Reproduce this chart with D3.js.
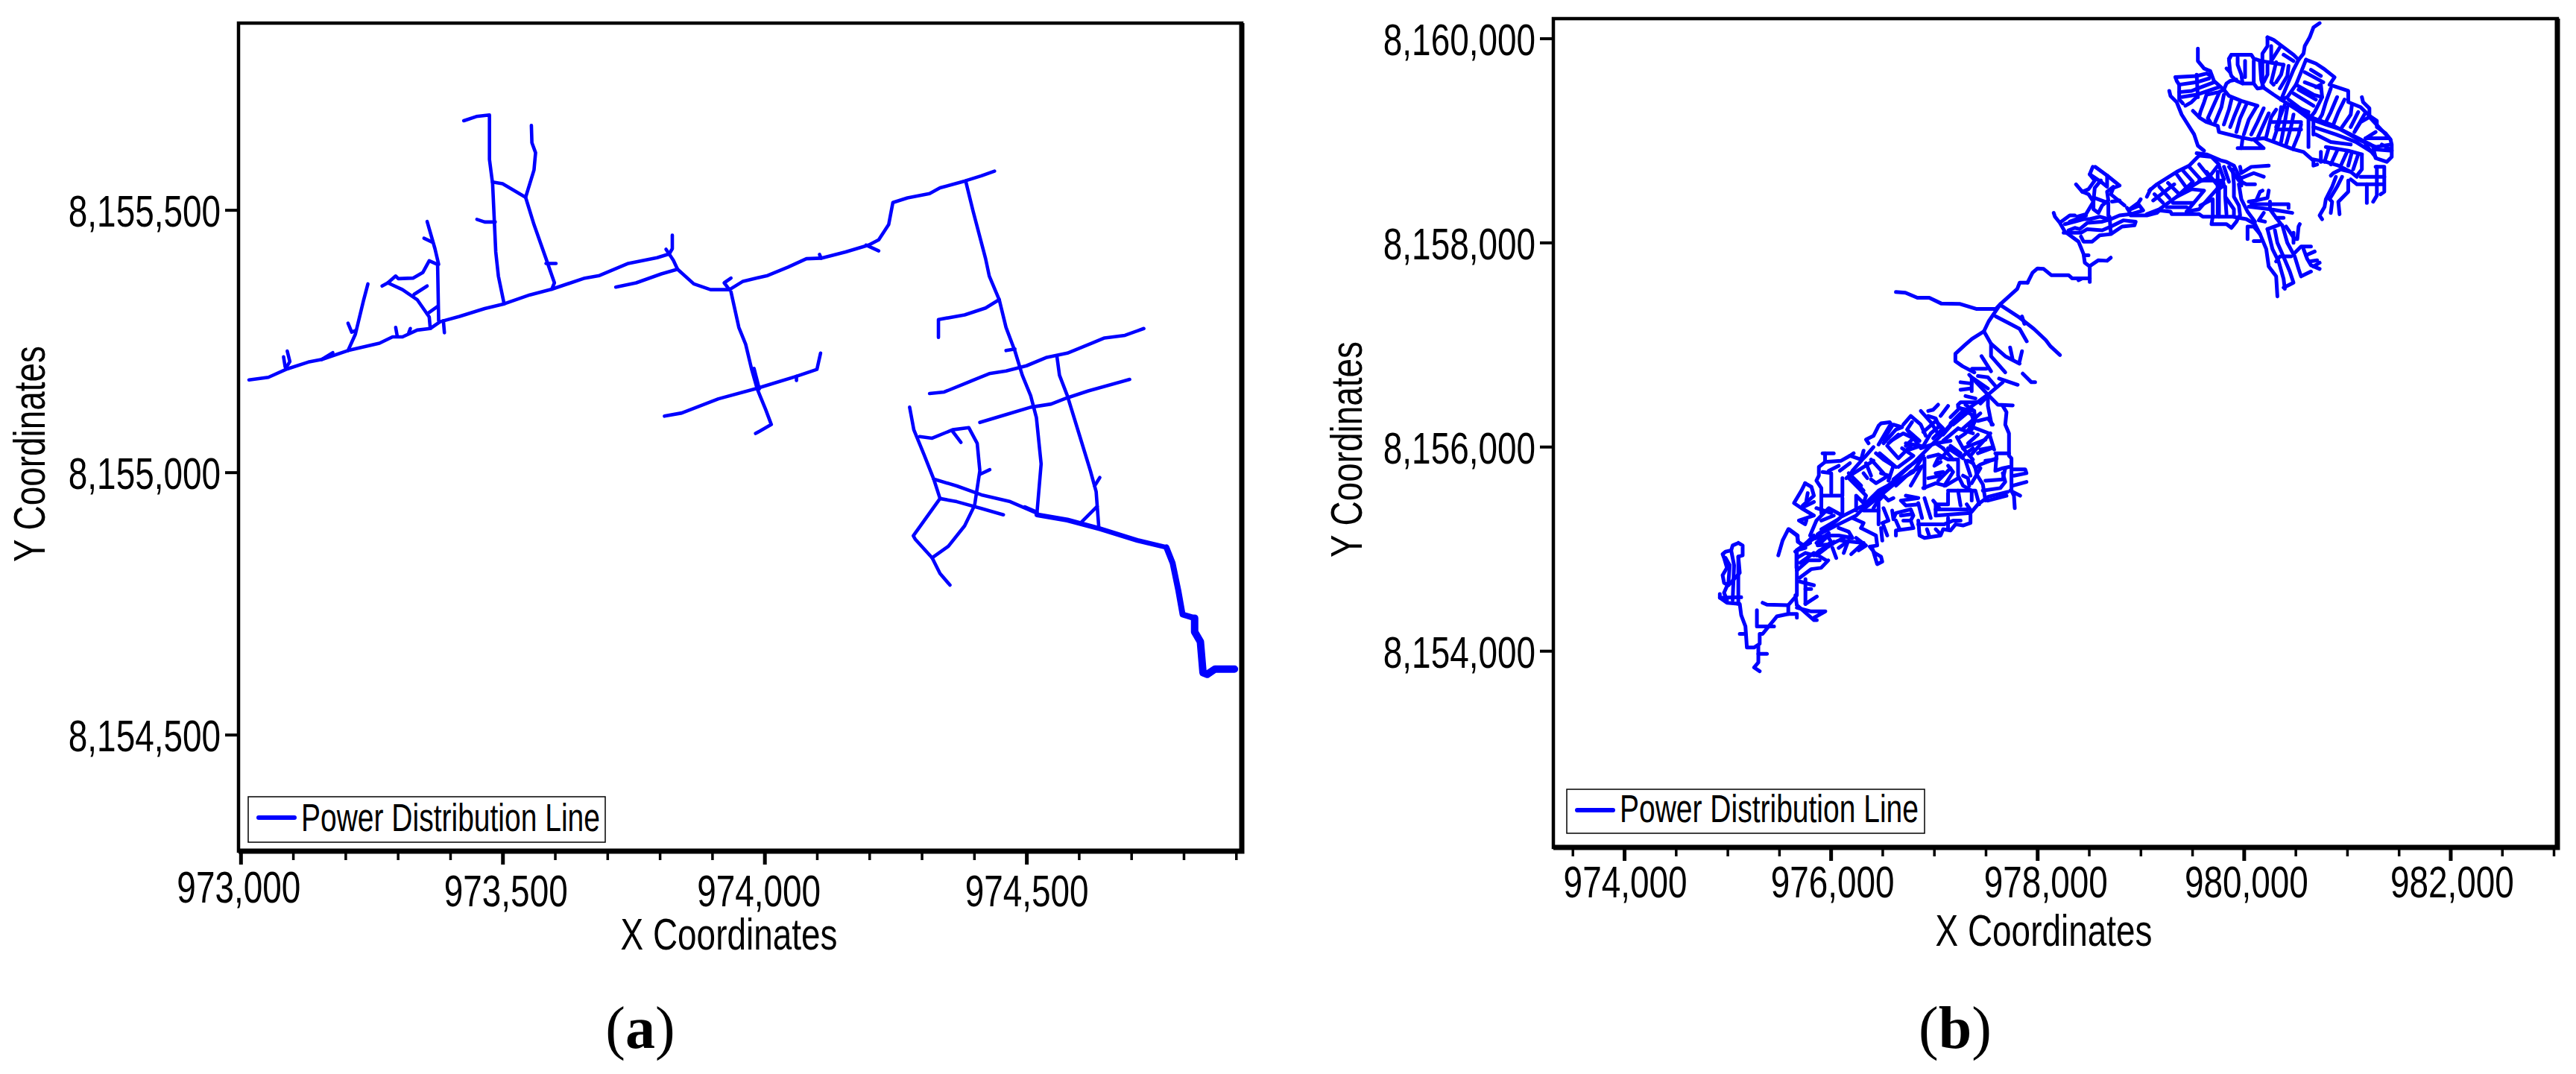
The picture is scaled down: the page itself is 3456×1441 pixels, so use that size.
<!DOCTYPE html>
<html>
<head>
<meta charset="utf-8">
<script src="https://cdn.jsdelivr.net/npm/d3@7"></script>
<style>
html, body { margin: 0; padding: 0; background: #fff; }
svg { display: block; }
text { font-family: "Liberation Sans", Arial, sans-serif; fill: #000; }
</style>
</head>
<body>
<svg id="chart" width="3456" height="1441"></svg>
<script>
//Coordinates are stored relative to a local grid origin so the lists stay short
var originX = 970000, originY = 8150000;

var xTicksA = [973000, 973500, 974000, 974500];
var xMinorA = [973100, 973200, 973300, 973400, 973600, 973700, 973800, 973900, 974100, 974200, 974300, 974400, 974600, 974700, 974800, 974900];
var yTicksA = [8154500, 8155000, 8155500];
var xTicksB = [974000, 976000, 978000, 980000, 982000];
var xMinorB = [973500, 974500, 975000, 975500, 976500, 977000, 977500, 978500, 979000, 979500, 980500, 981000, 981500, 982500, 983000];
var yTicksB = [8154000, 8156000, 8158000, 8160000];
var legendLabel = "Power Distribution Line";

//Panel (a) lines
var linesA = [
[[3016,5176],[3053,5181],[3089,5197],[3129,5210],[3155,5215],[3205,5232],[3265,5246],[3290,5258],[3309,5258],[3337,5271],[3362,5274],[3381,5287],[3418,5297],[3466,5312],[3503,5321],[3552,5338],[3594,5349],[3657,5370],[3685,5375],[3740,5398],[3795,5409],[3818,5416]],
[[3818,5416],[3826,5404],[3834,5387],[3865,5359],[3897,5348],[3933,5348],[3959,5364],[4006,5375],[4045,5391],[4080,5407],[4108,5408],[4155,5420],[4199,5433],[4218,5443],[4237,5472],[4245,5514],[4273,5523],[4315,5531],[4335,5542],[4382,5555],[4414,5565],[4439,5574]],
[[3089,5231],[3094,5211],[3086,5198]],[[3082,5220],[3085,5201]],
[[3155,5215],[3176,5228]],
[[3205,5232],[3219,5263],[3227,5296],[3235,5329],[3243,5359]],
[[3205,5284],[3212,5267],[3219,5270]],
[[3296,5276],[3299,5259]],[[3324,5274],[3321,5266]],
[[3362,5274],[3360,5296],[3337,5329],[3309,5348],[3281,5361],[3270,5355]],
[[3281,5361],[3296,5374],[3301,5369],[3329,5370],[3348,5381],[3360,5403],[3376,5396],[3378,5289]],
[[3331,5339],[3356,5355]],[[3356,5302],[3376,5316]],[[3387,5289],[3389,5266]],
[[3378,5396],[3371,5426],[3356,5478]],[[3350,5446],[3365,5439]],
[[3503,5321],[3492,5374],[3487,5420],[3481,5550],[3475,5596],[3475,5681],[3450,5678],[3426,5670]],
[[3481,5553],[3500,5550],[3544,5524],[3560,5576],[3563,5609],[3556,5628],[3555,5661]],
[[3544,5524],[3560,5472],[3583,5407],[3599,5361],[3594,5349]],
[[3583,5398],[3602,5398]],[[3451,5482],[3466,5477],[3486,5477]],
[[3818,5416],[3824,5426],[3824,5452]],[[3812,5425],[3818,5416]],
[[3716,5353],[3755,5361],[3803,5378],[3834,5387]],
[[3933,5348],[3923,5361],[3936,5370]],
[[3936,5344],[3951,5276],[3964,5244],[3975,5198],[3986,5159],[4002,5120],[4013,5091],[3983,5074]],
[[3980,5198],[3990,5159]],
[[3809,5107],[3842,5113],[3912,5140],[3986,5160],[4061,5183],[4100,5196],[4107,5227]],
[[4061,5183],[4061,5175]],[[4108,5408],[4105,5415]],[[4194,5433],[4218,5422]],
[[4384,5555],[4398,5498],[4422,5407],[4429,5374],[4448,5329],[4461,5276],[4478,5231],[4492,5185],[4508,5146],[4519,5104],[4528,5016],[4520,4922]],
[[4332,5257],[4332,5291],[4382,5300],[4422,5313],[4448,5329]],
[[4461,5232],[4478,5235]],
[[4315,5150],[4343,5153],[4387,5171],[4429,5188],[4461,5193],[4500,5203],[4539,5219],[4578,5227],[4625,5246],[4649,5256],[4688,5261],[4724,5274]],
[[4411,5095],[4461,5110],[4508,5124],[4547,5130],[4578,5142],[4618,5155],[4697,5177]],
[[4558,5222],[4563,5185],[4578,5146],[4602,5068],[4622,5003],[4633,4963],[4638,4896]],
[[4630,4974],[4640,4990]],[[4602,4902],[4635,4935]],
[[4277,5124],[4285,5081],[4304,5035],[4323,4987],[4367,4974],[4414,4957],[4469,4944],[4520,4922]],
[[4296,5068],[4320,5065],[4359,5081],[4390,5085],[4406,5055],[4411,5003],[4401,4937],[4382,4898],[4351,4859],[4320,4837],[4288,4872],[4284,4879],[4335,4950],[4323,4987]],
[[4335,4950],[4367,4944],[4414,4931],[4456,4919]],
[[4359,5078],[4375,5057]],[[4411,4996],[4430,5005]],
[[4320,4837],[4335,4807],[4354,4785]],[[4497,4934],[4520,4924]]
];
//Last run of line (a) gets heavier towards the substation
var heavyA1 = [[4520,4919],[4578,4909],[4641,4892],[4712,4870],[4767,4857]];
var heavyA2 = [[4767,4857],[4779,4827],[4790,4774],[4798,4729],[4821,4722]];
var heavyA3 = [[4821,4722],[4821,4696],[4832,4677],[4837,4618],[4845,4615],[4860,4625],[4897,4625]];

//Panel (b) upper cluster
var linesB1 = [
[[10734,10149],[10674,10107],[10638,10010],[10590,9924],[10578,9851],[10530,9790],[10481,9692],[10421,9546],[10361,9400]],
[[10229,10010],[10289,9985],[10385,9912],[10481,9839],[10530,9790]],
[[10229,10010],[10229,9924],[10180,9851],[10180,9522]],
[[9856,9802],[9880,9839],[10072,9839],[10096,9802],[10168,9778],[10313,9753],[10385,9741]],
[[9880,9839],[9856,9790],[9868,9668],[9832,9705]],
[[9868,9668],[9880,9631],[9928,9583],[9988,9558],[10096,9558],[10132,9509],[10192,9517],[10289,9448],[10361,9400]],
[[9940,9814],[9940,9741],[9976,9644],[9988,9558]],
[[10012,9778],[10012,9619]],[[10096,9778],[10096,9570]],
[[10156,9766],[10168,9595],[10192,9517]],
[[10229,9741],[10229,9644],[10192,9570]],
[[10313,9766],[10289,9668],[10265,9570],[10289,9546]],
[[10385,9741],[10361,9644],[10313,9570]],
[[10433,9729],[10421,9631],[10349,9509]],
[[10265,9924],[10265,9790]],[[10349,9912],[10265,9778]],[[10385,9839],[10481,9778]],
[[9338,9619],[9543,9631],[9639,9656],[9687,9631]],
[[9338,9619],[9350,9583],[9374,9546],[9374,9400],[9410,9363]],
[[9374,9546],[9543,9570],[9663,9607]],
[[9374,9473],[9494,9485],[9555,9509],[9711,9570]],
[[9398,9424],[9543,9448],[9759,9522]],
[[9434,9339],[9494,9375],[9543,9424]],
[[9555,9900],[9555,9778],[9615,9705],[9675,9680],[9711,9583],[9807,9497]],
[[9543,9644],[9555,9424]],
[[9278,9485],[9290,9436],[9350,9375],[9398,9253],[9458,9156],[9519,9058],[9555,8948],[9615,8899]],
[[9807,9497],[9856,9436],[9976,9387],[10132,9339]],
[[9639,9448],[9759,9473],[9807,9497]],
[[9807,9497],[9832,9558],[9868,9583],[9928,9595]],
[[9507,9290],[9579,9217],[9639,9180],[9747,9143],[9759,9082],[9952,9034],[10072,9009],[10192,9021],[10289,8985],[10481,8912]],
[[9639,9448],[9615,9375],[9579,9278],[9567,9229]],
[[9759,9461],[9699,9326],[9651,9217],[9675,9180]],
[[9807,9448],[9783,9326],[9723,9180]],
[[9880,9400],[9856,9302],[9807,9156]],
[[9964,9375],[9904,9229],[9868,9131]],
[[10024,9351],[9964,9217],[9928,9082]],
[[10120,9326],[10048,9204],[10000,9058]],
[[10192,9314],[10132,9180],[10072,9058]],
[[10241,9265],[10192,9156],[10132,9021]],
[[10313,9302],[10265,9229],[10217,9034]],
[[10361,9326],[10337,9156],[10289,9009]],
[[10421,9326],[10397,9180],[10361,8985]],
[[10481,9253],[10457,9131],[10409,8960]],
[[10554,9156],[10530,9058],[10481,8936]],
[[10265,9180],[10554,9180]],[[10313,9107],[10554,9107]],
[[9940,8924],[10192,8924],[10096,9009]],[[9976,8924],[9988,9021]],
[[10602,9790],[10698,9753],[10770,9705],[10879,9619],[10830,9546],[11011,9485],[11011,9375],[11131,9326],[11216,9241],[11288,9192],[11288,9131],[11372,9070],[11420,9009],[11432,8960],[11432,8838],[11384,8790],[11276,8826],[11252,8936]],
[[10602,9790],[10554,9668],[10505,9546],[10421,9424],[10361,9400]],
[[11143,9424],[11155,9375],[11216,9314],[11216,9229]],
[[10590,9668],[10770,9570]],
[[10505,9546],[10674,9448],[10758,9424]],
[[10481,9461],[10674,9339]],[[10433,9400],[10626,9253]],
[[10698,9522],[10746,9546],[10758,9424],[10686,9278],[10638,9217]],
[[10842,9509],[10794,9375],[10758,9253],[10722,9192]],
[[10903,9424],[10842,9278],[10794,9180]],
[[10975,9400],[10915,9278],[10867,9156]],
[[11047,9351],[11035,9253],[10951,9131]],
[[11107,9278],[11035,9131]],
[[11216,9229],[11131,9180],[11071,9082]],
[[10361,9400],[10530,9290],[10626,9217],[10794,9156],[10939,9107],[11107,9009],[11276,8936],[11420,8960]],
[[10674,9217],[10842,9156],[11059,9046],[11228,8960]],
[[10674,9131],[10891,9058],[11083,8985],[11240,8887]],
[[10698,9058],[10842,8985],[11035,8960]],
[[11179,9021],[11396,9021]],[[11276,8912],[11432,8899]],
[[11216,9229],[11420,9009]],
[[10626,9217],[10626,8936]],[[10674,9217],[10674,9058]],
[[10481,8912],[10578,8887],[10674,8802],[10674,8753],[10710,8765]],
[[10746,8887],[10746,8790]],[[10818,8912],[10782,8790]],[[10903,8899],[10842,8765]],[[10999,8887],[10939,8753]],[[11047,8887],[11011,8753]],
[[11143,8863],[11143,8716],[11095,8655]],[[11107,8863],[11059,8716]],
[[10794,8936],[11011,8899],[11143,8863]],
[[10674,8814],[10794,8790],[10915,8753],[11035,8692],[11095,8643]],
[[11035,8692],[10939,8716],[10867,8680],[10842,8655]],
[[10891,8643],[10855,8546],[10794,8424],[10782,8350],[10734,8265],[10758,8228]],
[[10951,8643],[10903,8546],[10830,8424],[10855,8399],[10842,8289]],
[[11011,8607],[11011,8497],[10915,8399],[10927,8277]],
[[11035,8619],[11095,8570],[11348,8570]],
[[11131,8643],[11360,8643]],
[[11276,8741],[11360,8741],[11360,8497],[11324,8472]],
[[11288,8741],[11288,8460],[11252,8399]],
[[11191,8570],[11191,8387]],
[[10650,9692],[10746,9631]],[[10590,9570],[10746,9509]],[[10530,9497],[10698,9400]],[[10457,9351],[10626,9278]],
[[10397,9351],[10313,9131]],[[11167,9253],[11083,9107]],[[11276,9082],[11179,9021]],[[11336,8960],[11420,8912]],[[11179,8960],[11276,8838]]
];

//Panel (b) middle band and neck
var linesB2 = [
[[7906,7607],[7954,7704],[8002,7746],[8062,7741],[8135,7680],[8303,7680],[8339,7648],[8508,7648],[8508,7765],[8460,7802],[8448,7887],[8399,8009],[8267,8107],[8219,8192],[8171,8253],[8159,8290]],
[[8460,7875],[8496,7875]],
[[8520,7777],[8592,7826],[8676,7821],[8712,7851]],
[[8399,7631],[8436,7648]],[[8508,7648],[8508,7614]],
[[8537,8741],[8508,8668],[8556,8607],[8496,8522],[8436,8497],[8375,8570]],
[[8436,8497],[8496,8473],[8544,8400],[8472,8278],[8387,8253]],
[[8561,8741],[8676,8656],[8797,8558],[8736,8534],[8712,8473],[8845,8363]],
[[8508,8668],[8616,8595],[8676,8546],[8676,8656]],
[[8616,8607],[8556,8534],[8544,8400],[8544,8326],[8592,8290],[8628,8363],[8688,8412],[8676,8497],[8736,8546]],
[[8556,8436],[8688,8387],[8688,8265]],[[8724,8400],[8797,8412]],
[[8231,8204],[8315,8265],[8363,8265]],
[[8267,8180],[8363,8204],[8448,8229],[8508,8229],[8604,8253],[8688,8229]],
[[8303,8119],[8363,8143],[8411,8131],[8484,8192],[8628,8204],[8712,8229],[8797,8265],[8905,8278]],
[[8255,8095],[8423,8095],[8484,8131],[8628,8119],[8712,8156],[8833,8217],[8953,8204],[8941,8168],[8821,8156],[8712,8082],[8604,8070],[8532,8009],[8448,8009],[8423,8058]],
[[8700,8253],[8712,8095]],
[[8905,8265],[9061,8265],[9158,8290],[9182,8314],[9290,8302],[9302,8278],[9567,8278],[9603,8253],[9675,8253]],
[[8869,8339],[8905,8278]],
[[8905,8326],[8989,8363],[9025,8314],[8905,8278]],
[[9001,8424],[8977,8387],[8893,8326]],
[[9061,8448],[9097,8522]],
[[9061,8278],[9182,8326],[9350,8448],[9495,8522],[9615,8509],[9446,8302]],
[[9314,8387],[9507,8387]],[[9254,8346],[9446,8346]],
[[9759,8546],[9567,8326],[9446,8302]],
[[9182,8546],[9278,8436]],[[9266,8583],[9375,8473]],[[9350,8668],[9446,8534]],[[9410,8705],[9507,8595]],[[9471,8741],[9591,8607]],[[9567,8766],[9663,8644]],[[9134,8473],[9218,8387]],
[[9085,8509],[9158,8570],[9350,8692],[9471,8753],[9567,8851],[9687,8839],[9759,8766],[9675,8656]],
[[9675,8644],[9567,8595],[9471,8534]],
[[9543,8875],[9639,8863],[9783,8802],[9832,8790],[9904,8753],[9976,8607],[9976,8558]],
[[9759,8753],[9808,8619],[9747,8546]],
[[9567,8607],[9711,8607],[9796,8607],[9808,8558],[9735,8509]],
[[9747,8692],[9747,8278]],
[[9820,8546],[9820,8448],[9904,8326],[9904,8265]],
[[9892,8717],[9904,8570],[9904,8448],[9952,8363],[9964,8265]],
[[9952,8570],[9976,8424],[10036,8302],[10108,8204]],
[[9856,8741],[9952,8607],[10024,8570],[10108,8570]],
[[9579,8363],[9699,8424],[9699,8253],[9892,8253],[10024,8229],[10108,8180],[10157,8082],[10217,7936],[10241,7765],[10313,7668],[10325,7472]],
[[9699,8253],[9687,8180],[9832,8180],[9880,8143],[9928,8204],[9952,8253]],
[[9964,8741],[9976,8680],[10072,8741],[10241,8753]],
[[9976,8631],[10096,8680],[10193,8644]],
[[10048,8400],[10120,8412],[10157,8497],[10181,8509]],
[[10120,8412],[10229,8436],[10241,8509]],
[[10072,8375],[10433,8375],[10433,8339]],
[[10048,8351],[10253,8326],[10469,8290]],
[[10253,8400],[10253,8326],[10313,8241],[10385,8241]],
[[10193,8290],[10145,8217],[10205,8204]],
[[10313,8241],[10361,8180],[10229,8131]],
[[10036,8156],[10036,8034]],
[[10048,8156],[10096,8156],[10157,8082]],
[[10096,8014],[10157,8014]],
[[10229,8131],[10253,8034],[10277,7936],[10337,7814],[10385,7643],[10397,7546]],
[[10301,8119],[10325,7997],[10373,7887],[10445,7716],[10481,7607],[10385,7558]],
[[10373,8168],[10421,7997],[10493,7863],[10530,7741],[10554,7668],[10650,7716]],
[[10409,8156],[10493,8034],[10518,8034],[10530,8156],[10542,8180]],
[[10481,8095],[10481,7997]],
[[10493,7899],[10554,7960],[10650,7960]],
[[10457,7863],[10349,7863],[10313,7814]],
[[10578,7936],[10614,7838],[10650,7777],[10734,7741]],
[[10602,7875],[10686,7912]],[[10638,7814],[10710,7826]],[[10674,7765],[10734,7802]],
[[8315,8204],[8472,8265]],[[9122,8412],[9326,8570]],[[9350,8448],[9495,8583]],[[9639,8692],[9759,8546]],[[9808,8741],[9856,8595]],[[9759,8546],[9759,8253]],[[9820,8448],[9832,8278]],
[[6631,7515],[6723,7508],[6839,7459],[6954,7459],[7069,7403],[7253,7398],[7414,7349],[7598,7349],[7644,7398],[7806,7545],[7829,7606],[7898,7606],[7906,7607]],
[[7644,7398],[7529,7227],[7483,7130],[7368,7057],[7299,6996],[7207,6910],[7207,6837],[7276,6788],[7391,6727]],
[[7644,7386],[7829,7264],[7967,7154],[8082,7044],[8128,6983],[8220,6898]],
[[7598,7276],[7737,7203],[7829,7154],[7898,7032]],
[[7852,7276],[7875,7203]],
[[7483,7130],[7552,7008],[7690,6886],[7829,6813]],
[[7552,7008],[7552,6886],[7690,6727]],
[[7737,6971],[7760,6861]],[[7852,6935],[7829,6837]],[[7460,6886],[7552,6739]],[[7368,6764],[7506,6764]]
];

//Panel (b) lower cluster
var linesB3 = [
[[7666,6399],[7702,6338],[7690,6216],[7726,6130],[7726,5911],[7750,5886],[7750,5569],[7774,5520],[7782,5398]],
[[7522,6509],[7425,6435],[7257,6435],[7233,6411]],
[[7522,6509],[7618,6411],[7762,6404]],
[[7522,6509],[7522,6399],[7558,6216]],
[[7522,6509],[7341,6704]],[[7522,6509],[7666,6631]],
[[7594,6594],[7522,6679],[7425,6692]],
[[7630,6667],[7810,6606]],[[7859,6716],[7943,6631],[7979,6631]],
[[7522,6570],[7365,6679],[7365,6545]],
[[7257,6631],[7365,6618]],[[7257,6557],[7353,6570]],[[7305,6496],[7401,6472]],[[7449,6423],[7510,6484]],[[7389,6350],[7305,6411]],
[[7233,6411],[7233,6387],[7305,6350],[7365,6313],[7389,6240],[7365,6167]],
[[5740,5032],[5909,5154],[6077,5240],[6246,5325],[6438,5520],[6583,5642],[6800,5838],[6920,5960],[7064,6106],[7233,6301],[7522,6509]],
[[5873,5142],[6029,5252],[6101,5313],[6318,5423],[6463,5569],[6800,5752],[6896,5911]],
[[5921,5935],[6029,5935]],
[[5945,5935],[5945,5850],[5885,5801],[5885,5716],[5861,5667],[5909,5594],[5909,5350]],
[[5945,5850],[6101,5862],[6186,5911],[6222,5935]],
[[6186,5911],[6294,5874],[6318,5960]],
[[5981,5764],[6077,5813]],
[[5921,5752],[6005,5740],[6005,5545]],
[[6113,5691],[6113,5520],[5909,5520]],
[[6113,5496],[6113,5325]],
[[6366,6033],[6342,6069],[6414,6106],[6463,6204],[6487,6228],[6571,6240],[6595,6204],[6511,6069]],
[[6414,5996],[6342,5911],[6306,5874],[6210,5764],[6186,5716]],
[[6571,6204],[6463,6021]],
[[6607,6216],[6691,6191],[6631,6167],[6511,6033]],
[[6703,6216],[6775,6301],[6872,6216],[6920,6106]],
[[6787,6240],[6739,6167],[6848,6021]],
[[6872,6350],[6968,6240],[7052,6106]],
[[6944,6350],[6992,6362],[7040,6411]],
[[7064,6301],[7136,6399]],
[[6944,6301],[7016,6277],[7052,6191]],
[[7160,6228],[7281,6350]],[[7160,6289],[7233,6362]],
[[7257,6374],[7389,6350],[7401,6252],[7305,6130],[7233,6082]],
[[7377,6130],[7233,6179]],
[[7425,6252],[7522,6277],[7570,6216]],
[[7088,6118],[7233,6289]],
[[7221,6094],[7281,5984],[7377,5874]],
[[7341,6204],[7534,6130],[7582,5972]],
[[7570,5996],[7449,5972]],
[[7546,6130],[7437,6008],[7353,5911]],
[[7594,5935],[7726,5935]],
[[7606,5923],[7594,5764],[7666,5789],[7726,5801]],
[[7606,5886],[7449,5825],[7401,5789],[7365,5862]],
[[7401,5789],[7413,5728],[7473,5630],[7498,5472]],
[[7762,5777],[7883,5777],[7895,5740],[7774,5716]],
[[7762,5618],[7895,5655]],[[7738,5569],[7834,5520]],
[[7714,5557],[7522,5508],[7425,5435],[7365,5362],[7317,5435]],
[[7498,5667],[7666,5679],[7690,5789]],
[[7473,5569],[7642,5594],[7690,5655],[7666,5740]],
[[7522,5472],[7702,5520]],
[[6944,5899],[7040,5923],[7136,5874],[7233,5874],[7233,5716],[7281,5618],[7365,5569],[7365,5472]],
[[7040,5886],[7004,5813],[7064,5850]],
[[6908,5886],[6908,5594]],
[[7016,5740],[7088,5752]],
[[6896,5594],[7016,5642],[7112,5618],[7233,5691]],
[[7100,5618],[7185,5752],[7136,5813]],
[[7377,5838],[7329,5862]],[[7305,5862],[7353,5716]],
[[7281,5716],[7329,5691],[7341,5618]],
[[7233,5569],[7257,5423]],
[[7136,5569],[7401,5569],[7437,5435]],
[[7136,5545],[7136,5435],[7016,5435],[7016,5325],[7353,5350],[7353,5252],[7281,5228],[7209,5240],[7160,5179],[7088,5191],[7064,5130],[6908,5106],[6860,5130],[6848,5276]],
[[6848,5240],[7100,5240],[7185,5276],[7257,5276]],
[[6932,5191],[6956,5118]],[[7016,5191],[7052,5154]],
[[6727,5520],[6848,5496],[6679,5472],[6727,5423],[6848,5435]],
[[6908,5496],[6968,5301]],[[6848,5447],[6884,5301]],[[6992,5472],[7052,5398]],
[[6607,5496],[6559,5472],[6511,5520],[6463,5472],[6463,5240]],
[[6487,5520],[6414,5398]],[[6463,5374],[6318,5374]],
[[6511,5398],[6559,5276],[6499,5252]],
[[6595,5374],[6607,5289],[6631,5350],[6775,5386],[6800,5325],[6775,5276],[6703,5276]],
[[6631,5276],[6667,5191]],
[[6775,5276],[6800,5203],[6631,5179],[6631,5130]],
[[6511,5228],[6547,5130]],[[6487,5203],[6499,5081]],
[[6294,5203],[6438,5130],[6450,5032],[6378,5020],[6426,4959],[6487,4923],[6499,4874],[6450,4849],[6402,5008]],
[[6210,5301],[6318,5252],[6294,5203]],
[[6077,5203],[6174,5167],[6210,5106],[6077,5130],[5981,5130],[5873,5032],[6017,5045],[5981,5106]],
[[6101,5081],[6318,5057],[6198,4947]],
[[6162,5057],[6126,4959]],[[6017,5008],[6053,4910]],
[[5861,4935],[5957,5008]],
[[5704,4862],[5837,4959],[5957,4886]],
[[5596,5191],[5680,5130],[5680,5069],[5740,5032],[5668,4984],[5668,4813]],
[[5740,5032],[5837,5130]],[[5656,4972],[5800,5057]],
[[5800,5130],[5861,5276],[5909,5325],[5981,5398],[6113,5325]],
[[5752,5642],[5716,5569],[5644,5447],[5716,5398],[5837,5325],[5692,5276],[5752,5240],[5764,5276]],
[[5752,5642],[5813,5606],[5837,5520],[5728,5423]],
[[5777,5545],[5764,5472]],[[5837,5459],[5740,5411]],
[[6174,5691],[6342,5520],[6318,5447],[6246,5520],[6246,5374]],
[[6222,5667],[6318,5569]],[[6186,5716],[6414,5862]],
[[6342,5838],[6390,5716]],[[6318,5740],[6354,5691]],
[[6438,5935],[6511,5874],[6607,5813],[6559,5667]],
[[6487,5740],[6559,5716],[6438,5642],[6390,5679]],
[[6607,5679],[6751,5801],[6836,5862]],
[[6631,5618],[6775,5752],[6896,5813]],
[[6872,5789],[6775,5618]],
[[6727,6033],[6872,6008],[6727,5960]],
[[6583,6057],[6703,6130],[6800,6082],[6727,6008]],
[[6547,6008],[6655,5886],[6775,6008]],
[[6872,5984],[7016,6033],[7088,5984]],
[[6896,6008],[6968,6130],[7040,6191]],
[[7016,6033],[7160,6057]],[[7233,6179],[7088,6057]],
[[7160,5984],[7064,5886]],[[7160,6008],[7257,5935]],[[7088,5984],[7185,5874]],
[[7185,6216],[7329,6338]],[[7281,6179],[7449,6326]],[[7425,6118],[7329,6033]],[[7281,5984],[7498,6069]],[[7425,5935],[7558,5984]],
[[6896,6143],[7016,6252],[7088,6179],[6992,6082]],[[6751,6155],[6860,6057]],[[6559,6033],[6655,6118]],
[[6691,5984],[6800,5911],[6655,5801]],[[6390,5874],[6511,5740]],[[6474,5935],[6631,5801]],[[6174,5740],[6294,5618]],
[[6089,5764],[6186,5838]],[[6150,5691],[6222,5752]],[[6318,5386],[6655,5667]],
[[7136,5984],[7281,5886]],[[7281,5911],[7377,5984]],[[6944,5691],[7064,5716]],[[7040,5667],[7160,5789]],[[7365,5642],[7449,5789]],[[7498,5862],[7594,5874]],
[[7016,5386],[7329,5386]],[[6679,5325],[6775,5337]],[[7136,5301],[7136,5203]],
[[5861,5057],[5981,5154]],[[5885,4972],[5993,5057]],[[5981,5032],[6126,5106]],[[6077,5008],[6174,5081]],[[6246,5106],[6342,5032],[6270,4984]],
[[5861,5398],[6005,5350]],[[5909,5276],[6029,5325]],[[5909,5191],[6053,5276]],
[[5492,4935],[5534,5081],[5589,5191],[5672,5130],[5686,5069],[5755,5008],[5672,4984],[5672,4544],[5589,4447],[5382,4452],[5340,4471]],
[[5672,4984],[5810,5093],[5976,5130]],
[[5672,4910],[5755,4959],[5838,4935],[5893,4984],[5976,5020],[6031,5069]],
[[5672,4788],[5782,4886],[5893,4886]],
[[5699,4715],[5810,4800],[5907,4813],[5976,4886]],
[[5699,4679],[5837,4642]],
[[5755,4703],[5755,4459]],[[5755,4605],[5810,4605]],[[5755,4459],[5865,4532]],
[[5589,4447],[5589,4361],[5478,4337],[5340,4166],[5312,4166],[5312,4069],[5257,4032],[5188,4032],[5174,4239],[5133,4349],[5119,4459],[4995,4471],[4926,4520],[4926,4557]],
[[4926,4520],[5133,4525]],
[[5285,4398],[5285,4239],[5451,4239]],
[[5119,4166],[5174,4166]],
[[5299,4044],[5299,3886],[5257,3837],[5312,3800]],
[[5299,3971],[5382,3971]],
[[5589,4361],[5672,4361],[5672,4325]],
[[5672,4447],[5838,4300],[5865,4300]],
[[5672,4422],[5810,4386],[5948,4386],[5838,4325]],
[[5658,4544],[5672,4447]],
[[5105,5057],[5147,5032],[5147,4935],[5105,4923],[5119,4764],[5009,4642],[4967,4666],[4953,4740],[4995,4813],[4967,4910],[4953,4947],[4981,4971],[5036,4984],[5050,5032],[5105,5057]],
[[5036,4984],[5064,4837],[5050,4496]],
[[5105,4923],[5105,4459]],
[[4981,4910],[5022,4837],[5009,4666],[4967,4569],[4995,4496]]
];

var svg = d3.select("#chart");
var blue = "#0000ff";
var fmt = d3.format(",");
var labelSize = 60, labelSquash = 0.765;

//Draws one panel, box holds the pixel rectangle of the frame
function drawPanel(p) {
  var x = d3.scaleLinear().domain(p.xDomain).range([p.left, p.right]);
  var y = d3.scaleLinear().domain(p.yDomain).range([p.bottom, p.top]);

  var line = d3.line()
    .x(function(d) { return x(d[0] + originX); })
    .y(function(d) { return y(d[1] + originY); });

  var g = svg.append("g");

  p.series.forEach(function(s) {
    g.append("g").selectAll("path")
      .data(s.lines)
      .enter().append("path")
      .attr("d", line)
      .attr("fill", "none")
      .attr("stroke", blue)
      .attr("stroke-width", s.width)
      .attr("stroke-linejoin", "round")
      .attr("stroke-linecap", "round");
  });

  //Frame, the bottom and right sides are heavier
  g.append("rect")
    .attr("x", p.left).attr("y", p.top)
    .attr("width", p.right - p.left).attr("height", p.bottom - p.top)
    .attr("fill", "none").attr("stroke", "#000").attr("stroke-width", 4.5);
  g.append("path")
    .attr("d", "M" + p.left + "," + p.bottom + "H" + p.right + "V" + p.top)
    .attr("fill", "none").attr("stroke", "#000").attr("stroke-width", 7);

  //Minor ticks
  var minor = g.append("g").attr("transform", "translate(0," + (p.bottom + 3) + ")")
    .call(d3.axisBottom(x).tickValues(p.xMinor).tickSize(9).tickFormat(""));
  minor.select(".domain").remove();
  minor.selectAll("line").attr("stroke", "#000").attr("stroke-width", 3.5);

  //Major ticks and labels
  var xAxis = g.append("g").attr("transform", "translate(0," + (p.bottom + 3) + ")")
    .call(d3.axisBottom(x).tickValues(p.xTicks).tickSize(15).tickFormat(fmt));
  xAxis.select(".domain").remove();
  xAxis.selectAll("line").attr("stroke", "#000").attr("stroke-width", 5);
  xAxis.selectAll("text")
    .attr("font-size", labelSize)
    .attr("text-anchor", "middle")
    .attr("y", p.xLabelY - p.bottom - 3)
    .attr("dy", 0)
    .attr("x", function(d, i) { return p.xLabelDx[i] / labelSquash; })
    .attr("transform", "scale(" + labelSquash + ",1)");
  xAxis.selectAll("text").filter(function(d, i) { return i == 0; })
    .attr("y", p.xLabelY - p.bottom - 3 + p.firstLabelDy);

  var yAxis = g.append("g").attr("transform", "translate(" + (p.left - 2) + ",0)")
    .call(d3.axisLeft(y).tickValues(p.yTicks).tickSize(16).tickFormat(fmt));
  yAxis.select(".domain").remove();
  yAxis.selectAll("line").attr("stroke", "#000").attr("stroke-width", 4);
  yAxis.selectAll("text")
    .attr("font-size", labelSize)
    .attr("text-anchor", "end")
    .attr("x", -22 / labelSquash)
    .attr("dy", 0)
    .attr("y", 22)
    .attr("transform", "scale(" + labelSquash + ",1)");

  //Axis titles
  g.append("text")
    .attr("transform", "translate(" + p.xTitle[0] + "," + p.xTitle[1] + ") scale(" + labelSquash + ",1)")
    .attr("text-anchor", "middle").attr("font-size", labelSize)
    .text("X Coordinates");
  g.append("text")
    .attr("transform", "translate(" + p.yTitle[0] + "," + p.yTitle[1] + ") rotate(-90) scale(" + labelSquash + ",1)")
    .attr("text-anchor", "middle").attr("font-size", labelSize)
    .text("Y Coordinates");

  //Legend
  var lg = p.legend;
  g.append("rect")
    .attr("x", lg.x0).attr("y", lg.y0)
    .attr("width", lg.x1 - lg.x0).attr("height", lg.y1 - lg.y0)
    .attr("fill", "#fff").attr("stroke", "#000").attr("stroke-width", 1.5);
  g.append("line")
    .attr("x1", lg.x0 + 14).attr("x2", lg.x0 + 62)
    .attr("y1", lg.lineY).attr("y2", lg.lineY)
    .attr("stroke", blue).attr("stroke-width", 6).attr("stroke-linecap", "round");
  g.append("text")
    .attr("transform", "translate(" + (lg.x0 + 71) + "," + lg.textY + ") scale(0.75,1)")
    .attr("font-size", 52)
    .text(legendLabel);

  //Sub-figure letter
  var cap = g.append("text")
    .attr("x", p.caption[0]).attr("y", p.caption[1])
    .attr("text-anchor", "middle")
    .style("font-family", "'Liberation Serif', serif")
    .attr("font-size", 80);
  cap.append("tspan").text("(");
  cap.append("tspan").attr("font-weight", "bold").text(p.letter);
  cap.append("tspan").text(")");
}

drawPanel({
  left: 320, right: 1666, top: 31, bottom: 1142,
  xDomain: [972996, 974911], yDomain: [8154278, 8155856],
  xTicks: xTicksA, xMinor: xMinorA, yTicks: yTicksA,
  xLabelY: 1216, xLabelDx: [-3, 4, -8, 0], firstLabelDy: -5,
  xTitle: [978, 1274], yTitle: [60, 609],
  legend: {x0: 333, x1: 812, y0: 1069, y1: 1130, lineY: 1097, textY: 1115},
  caption: [859, 1406], letter: "a",
  series: [
    {lines: linesA, width: 4.6},
    {lines: [heavyA1], width: 6.5},
    {lines: [heavyA2], width: 8},
    {lines: [heavyA3], width: 10}
  ]
});

drawPanel({
  left: 2084, right: 3431, top: 25, bottom: 1137,
  xDomain: [973314, 983036], yDomain: [8152074, 8160193],
  xTicks: xTicksB, xMinor: xMinorB, yTicks: yTicksB,
  xLabelY: 1204, xLabelDx: [1, 2, 11, 3, 2], firstLabelDy: 0,
  xTitle: [2742, 1269], yTitle: [1827, 603],
  legend: {x0: 2102, x1: 2582, y0: 1059, y1: 1118, lineY: 1087, textY: 1103},
  caption: [2623, 1406], letter: "b",
  series: [
    {lines: linesB1, width: 5},
    {lines: linesB2, width: 5},
    {lines: linesB3, width: 5}
  ]
});
</script>
</body>
</html>
